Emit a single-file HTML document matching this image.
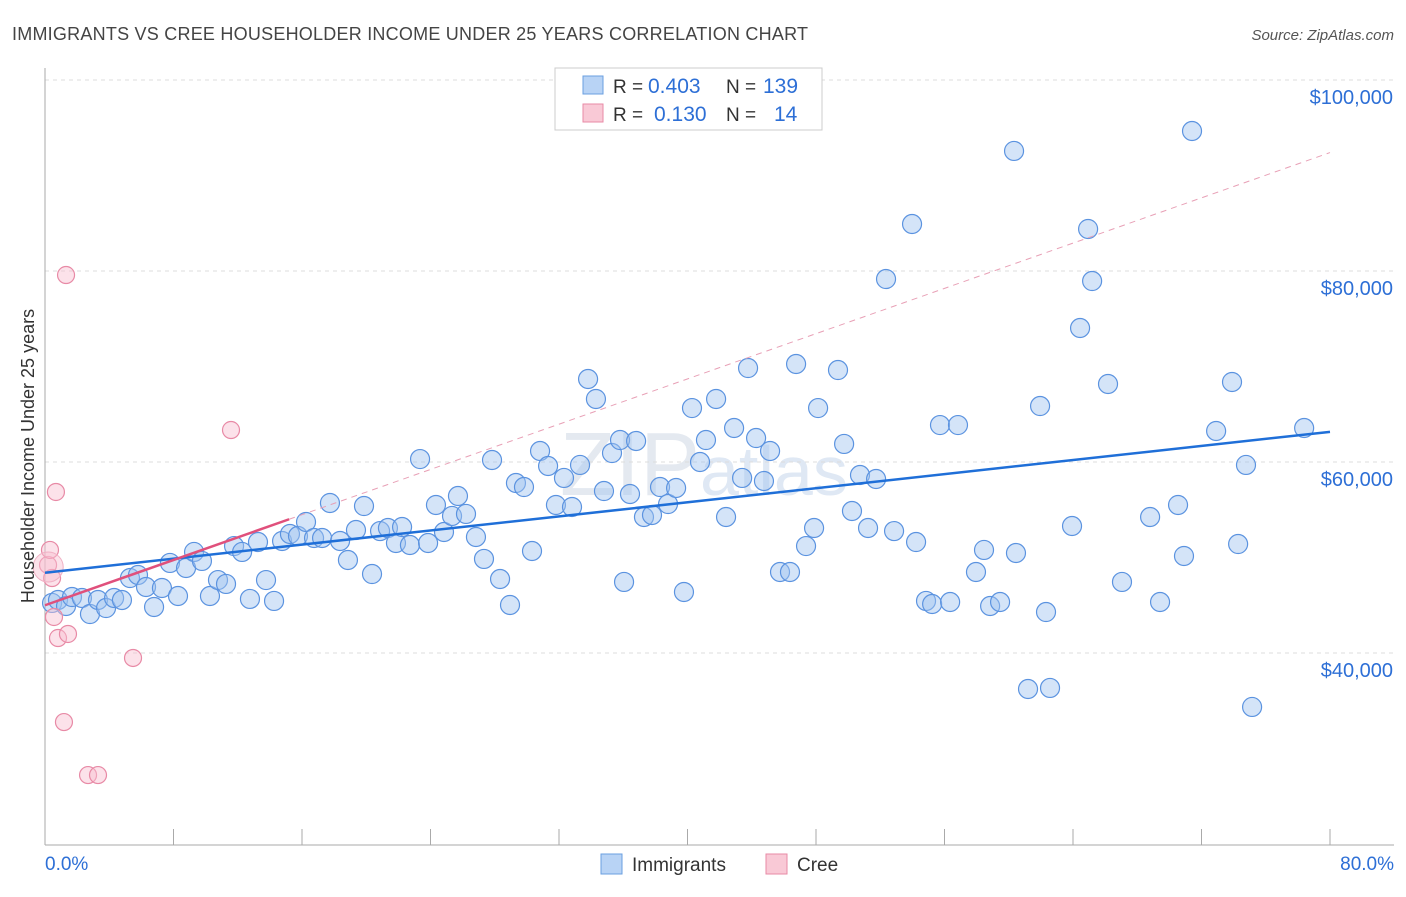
<!DOCTYPE html>
<html><head><meta charset="utf-8"><style>
body{margin:0;background:#fff;font-family:"Liberation Sans",sans-serif;}
svg text{font-family:"Liberation Sans",sans-serif;}
</style></head><body>
<svg id="chart" width="1406" height="892">
<text x="12" y="40" font-size="18" fill="#444" textLength="796">IMMIGRANTS VS CREE HOUSEHOLDER INCOME UNDER 25 YEARS CORRELATION CHART</text>
<text x="1394" y="40" font-size="15" fill="#555" font-style="italic" text-anchor="end">Source: ZipAtlas.com</text>
<text x="560" y="495" font-size="90" fill="#e4e9f0" font-family="Liberation Serif">ZIP</text>
<text x="700" y="495" font-size="70" fill="#dfe8f4">atlas</text>
<g id="grid"></g>
<g id="axes"></g>
<g id="marks"></g>
<text transform="translate(34,456) rotate(-90)" font-size="18" fill="#333" text-anchor="middle">Householder Income Under 25 years</text>
<g>
<rect x="555" y="68" width="267" height="62" fill="#fff" stroke="#ccc"/>
<rect x="583" y="76" width="20" height="18" fill="#b8d3f5" stroke="#6a9fe0"/>
<rect x="583" y="104" width="20" height="18" fill="#f9c9d6" stroke="#e88aa6"/>
<text x="613" y="93" font-size="19" fill="#333">R =</text>
<text x="648" y="93" font-size="21" fill="#2d6fd6">0.403</text>
<text x="726" y="93" font-size="19" fill="#333">N =</text>
<text x="763" y="93" font-size="21" fill="#2d6fd6">139</text>
<text x="613" y="121" font-size="19" fill="#333">R =</text>
<text x="654" y="121" font-size="21" fill="#2d6fd6">0.130</text>
<text x="726" y="121" font-size="19" fill="#333">N =</text>
<text x="774" y="121" font-size="21" fill="#2d6fd6">14</text>
</g>
<g>
<rect x="601" y="854" width="21" height="20" fill="#b8d3f5" stroke="#6a9fe0"/>
<text x="632" y="871" font-size="19" fill="#333">Immigrants</text>
<rect x="766" y="854" width="21" height="20" fill="#f9c9d6" stroke="#e88aa6"/>
<text x="797" y="871" font-size="19" fill="#333">Cree</text>
</g>
</svg>
<script>
const yTicks=[40000,60000,80000,100000];
const xTickLabels=["0.0%","80.0%"];
const blueX=[0.44,0.81,1.31,1.68,2.30,2.80,3.30,3.80,4.30,4.79,5.29,5.79,6.29,6.79,7.28,7.78,8.28,8.78,9.28,9.77,10.27,10.77,11.27,11.77,12.27,12.76,13.26,13.76,14.26,14.76,15.25,15.75,16.25,16.75,17.25,17.74,18.37,18.86,19.36,19.86,20.36,20.86,21.35,21.85,22.23,22.72,23.35,23.85,24.34,24.84,25.34,25.71,26.21,26.83,27.33,27.83,28.33,28.95,29.32,29.82,30.32,30.82,31.32,31.81,32.31,32.81,33.31,33.81,34.30,34.80,35.30,35.80,36.05,36.42,36.80,37.29,37.79,38.29,38.79,39.29,39.78,40.28,40.78,41.15,41.78,42.40,42.90,43.40,43.77,44.27,44.76,45.14,45.76,46.38,46.76,47.38,47.88,48.13,49.37,49.75,50.24,50.74,51.24,51.74,52.36,52.86,53.98,54.23,54.85,55.23,55.72,56.35,56.84,57.96,58.46,58.84,59.46,60.45,60.33,61.20,61.95,62.32,62.57,63.94,64.44,64.94,65.19,66.18,67.05,68.80,69.42,70.54,70.91,71.41,72.91,73.90,74.28,74.77,75.15,78.39];
const blueY=[45.24,45.55,44.92,45.86,45.76,44.08,45.55,44.71,45.76,45.55,47.85,48.17,46.91,44.82,46.81,49.43,45.97,48.90,50.58,49.64,45.97,47.64,47.23,51.20,50.58,45.66,51.62,47.64,45.45,51.73,52.46,52.25,53.72,52.04,52.04,55.71,51.73,49.74,52.88,55.39,48.27,52.77,53.09,51.52,53.19,51.31,60.31,51.52,55.50,52.67,54.35,56.44,54.56,52.15,49.85,60.21,47.75,45.03,57.80,57.38,50.68,61.15,59.58,55.50,58.33,55.29,59.69,68.69,66.60,56.96,60.94,62.30,47.44,56.65,62.20,54.24,54.45,57.38,55.60,57.28,46.39,65.65,60.00,62.30,66.60,54.24,63.56,58.33,69.84,62.51,58.01,61.15,48.48,48.48,70.26,51.20,53.09,65.65,69.63,61.89,54.87,58.64,53.09,58.22,79.16,52.77,84.92,51.62,45.45,45.13,63.87,45.34,63.87,48.48,50.79,44.92,45.34,50.47,92.57,36.23,65.86,44.29,36.34,53.30,74.03,84.40,78.95,68.17,47.44,54.24,45.34,55.50,50.16,94.66,63.25,68.38,51.41,59.69,34.35,63.56];
const pinkX=[0.19,0.31,0.44,0.68,0.56,0.81,1.31,1.43,1.18,2.68,3.30,5.48,11.58];
const pinkY=[49.22,50.79,47.85,56.86,43.77,41.57,79.58,41.99,32.77,27.22,27.22,39.48,63.35];
const blueTrend=[48.4,0.1845];
const pinkTrend=[45.0,0.5925];

const NS="http://www.w3.org/2000/svg";
const xs=v=>45+v/80*1285;
const ys=k=>80+(100-k)*191/20;
function mk(tag,attrs,parent){const e=document.createElementNS(NS,tag);for(const k in attrs)e.setAttribute(k,attrs[k]);parent.appendChild(e);return e;}
const grid=document.getElementById('grid'),axes=document.getElementById('axes'),marks=document.getElementById('marks');
yTicks.forEach(t=>{
  const y=ys(t/1000);
  const l=mk('line',{x1:45,x2:1394,y1:y,y2:y,stroke:'#ddd','stroke-dasharray':'4,4'},grid);
  
  
  const tx=mk('text',{x:1393,y:y+24,'font-size':20,fill:'#2d6fd6','text-anchor':'end'},axes);
  tx.textContent='$'+t.toLocaleString('en-US');
  
  
});
mk('line',{x1:45,x2:45,y1:68,y2:845,stroke:'#aaa'},axes);
mk('line',{x1:45,x2:1394,y1:845,y2:845,stroke:'#aaa'},axes);
for(let i=0;i<=10;i++){const x=xs(i*8);mk('line',{x1:x,x2:x,y1:829,y2:845,stroke:'#aaa'},axes);}
let t0=mk('text',{x:45,y:870,'font-size':19,fill:'#2d6fd6'},axes);t0.textContent=xTickLabels[0];


let t1=mk('text',{x:1394,y:870,'font-size':19,fill:'#2d6fd6','text-anchor':'end'},axes);t1.textContent=xTickLabels[1];



blueX.forEach((x,i)=>{
  const c=mk('circle',{cx:xs(x),cy:ys(blueY[i]),r:9.5,fill:'rgba(160,195,240,0.45)',stroke:'#5b93e0','stroke-width':1.2},marks);
  
  
});
pinkX.forEach((x,i)=>{
  const c=mk('circle',{cx:xs(x),cy:ys(pinkY[i]),r:8.5,fill:'rgba(248,190,208,0.45)',stroke:'#e88aa6','stroke-width':1.2},marks);
  
  
});
const big=mk('circle',{cx:xs(0.2),cy:ys(49.0),r:15,fill:'rgba(248,190,208,0.45)',stroke:'#f0b0c4','stroke-width':1},marks);


const bl=mk('line',{x1:xs(0),y1:ys(blueTrend[0]),x2:xs(80),y2:ys(blueTrend[0]+80*blueTrend[1]),stroke:'#1f6fd8','stroke-width':2.5},marks);


const pl=mk('line',{x1:xs(0),y1:ys(pinkTrend[0]),x2:xs(15.2),y2:ys(pinkTrend[0]+15.2*pinkTrend[1]),stroke:'#e0507c','stroke-width':2.5},marks);


const pd=mk('line',{x1:xs(15.2),y1:ys(pinkTrend[0]+15.2*pinkTrend[1]),x2:xs(80),y2:ys(pinkTrend[0]+80*pinkTrend[1]),stroke:'#e8a0b6','stroke-width':1,'stroke-dasharray':'6,5'},marks);


</script>
</body></html>
